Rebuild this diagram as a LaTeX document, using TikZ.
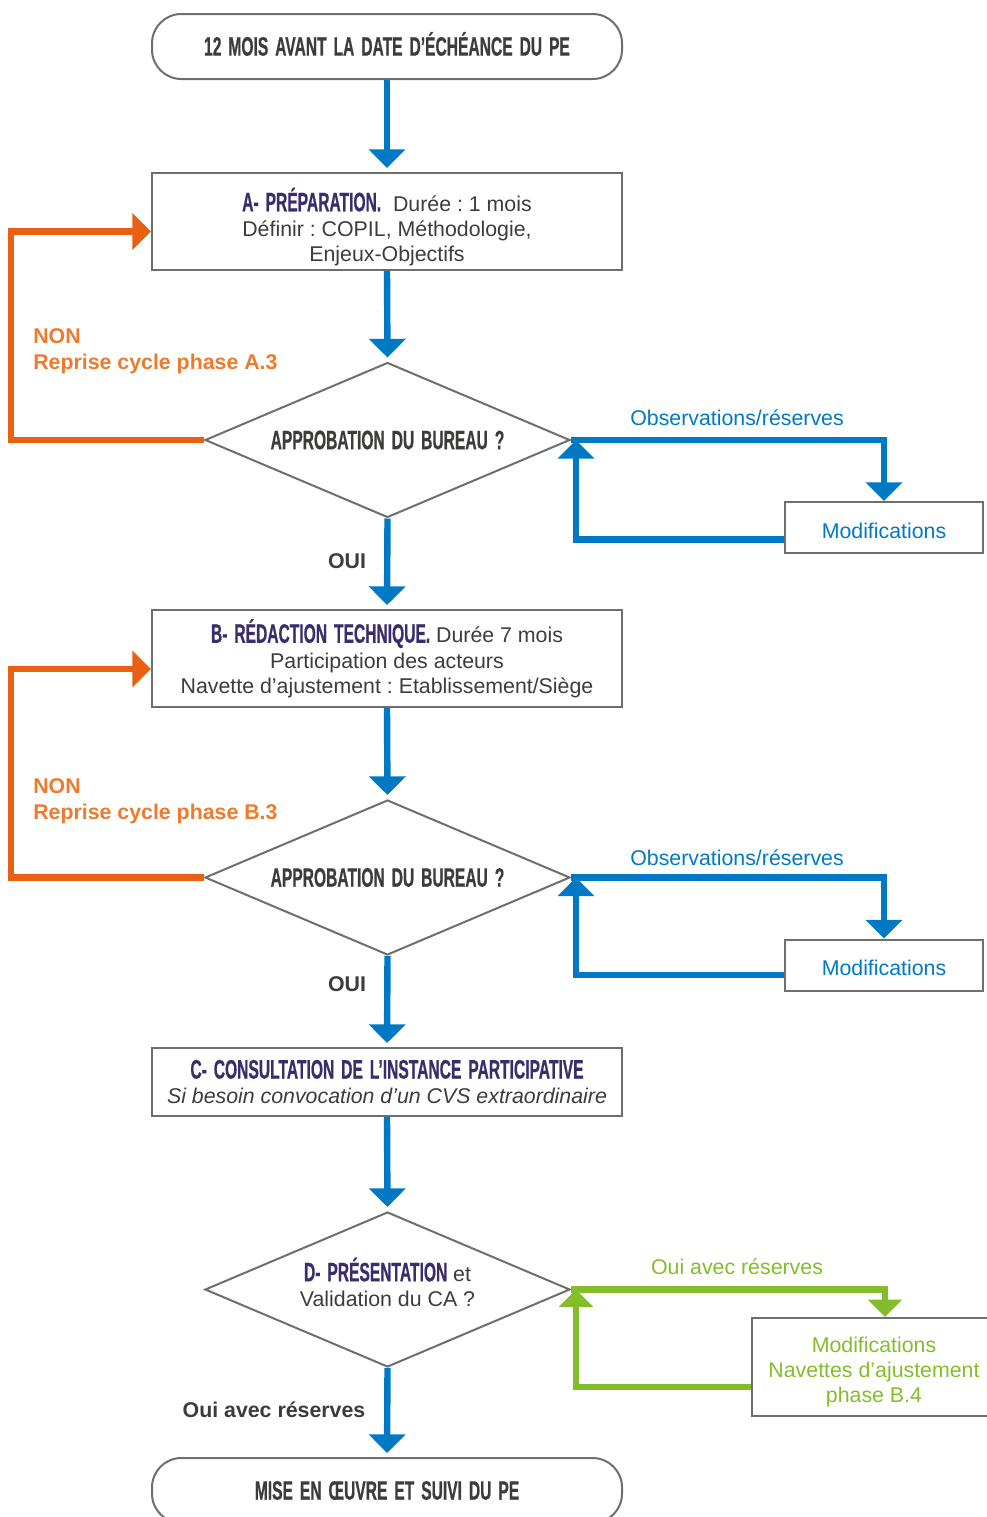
\documentclass[tikz,border=0pt]{standalone}
\usepackage{fontspec}
\setmainfont{Liberation Sans}
\newfontfamily\headfont[FakeStretch=0.585,FakeBold=0.6,WordSpace=1.6]{Liberation Sans}
\usetikzlibrary{arrows.meta,shapes.geometric,calc}
\definecolor{cblue}{HTML}{0079C4}
\definecolor{corange}{HTML}{EA6012}
\definecolor{corangetxt}{HTML}{EE7A2E}
\definecolor{cgreen}{HTML}{84BD2A}
\definecolor{cpurple}{HTML}{3A2D6B}
\definecolor{ctext}{HTML}{3C3C3B}
\definecolor{cgray}{HTML}{6E6E6E}
\newcommand\hdtxt[1]{{\headfont\bfseries\fontsize{20}{19}\selectfont #1}}
\frenchspacing
\begin{document}
\begin{tikzpicture}[x=0.75pt,y=-0.75pt,
  box/.style={draw=cgray, line width=1.5pt, minimum width=352.5pt, align=center,
    inner sep=0pt, text=ctext, font=\fontsize{16}{19}\selectfont},
  rbox/.style={box, rounded corners=22pt, minimum height=48.75pt},
  dia/.style={draw=cgray, line width=1.5pt, diamond, aspect=2.35, minimum width=273.75pt,
    minimum height=116.25pt, inner sep=0pt, align=center, text=ctext,
    font=\fontsize{16}{19}\selectfont},
  modbox/.style={draw=cgray, line width=1.5pt, align=center, inner sep=0pt,
    font=\fontsize{16}{19}\selectfont},
  lbl/.style={inner sep=0pt, font=\fontsize{16}{19.5}\selectfont},
  barrow/.style={draw=cblue, line width=4.8pt, -{Triangle[width=27pt,length=14pt]}},
  oarrow/.style={draw=corange, line width=4.8pt, -{Triangle[width=27pt,length=14pt]}},
  garrow/.style={draw=cgreen, line width=4.8pt, -{Triangle[width=25pt,length=13pt]}}
]
\useasboundingbox (0,0) rectangle (987,1517);
\clip (0,0) rectangle (987,1517);

% main chain
\node[rbox] (top) at (387,46.5) {\rule[-4pt]{0pt}{0pt}\hdtxt{12 MOIS AVANT LA DATE D’ÉCHÉANCE DU PE}};
\node[box, minimum height=72.75pt] (A) at (387,221.5)
  {\rule{0pt}{26pt}\textcolor{cpurple}{\hdtxt{A- PRÉPARATION.}}\ \ Durée : 1 mois\\Définir : COPIL, Méthodologie,\\Enjeux-Objectifs};
\node[dia] (D1) at (387.5,440) {\hdtxt{APPROBATION DU BUREAU ?}};
\node[modbox, minimum width=148.5pt, minimum height=38.25pt, text=cblue] (M1) at (884,527.5) {\rule{0pt}{16pt}Modifications};

\node[box, minimum height=72.75pt] (B) at (387,658.5)
  {\textcolor{cpurple}{\hdtxt{B- RÉDACTION TECHNIQUE.}} Durée 7 mois\\Participation des acteurs\\Navette d’ajustement : Etablissement/Siège};
\node[dia] (D2) at (387.5,877.5) {\hdtxt{APPROBATION DU BUREAU ?}};
\node[modbox, minimum width=148.5pt, minimum height=38.25pt, text=cblue] (M2) at (884,965) {\rule{0pt}{16pt}Modifications};

\node[box, minimum height=51pt] (C) at (387,1082)
  {\textcolor{cpurple}{\hdtxt{C- CONSULTATION DE L’INSTANCE PARTICIPATIVE}}\\\textit{Si besoin convocation d’un CVS extraordinaire}};
\node[dia] (D3) at (387.5,1289.5)
  {\textcolor{cpurple}{\hdtxt{D- PRÉSENTATION}} et\\Validation du CA ?\rule[-11pt]{0pt}{0pt}};
\node[modbox, minimum width=183pt, minimum height=73.5pt, text=cgreen] (M3) at (874,1367)
  {\rule{0pt}{19pt}Modifications\\Navettes d’ajustement\\phase B.4};

\node[rbox] (end) at (387,1490.5) {\hdtxt{MISE EN ŒUVRE ET SUIVI DU PE}};

% labels
\node[lbl, text=corangetxt, anchor=west, align=left, font=\bfseries\fontsize{16}{19.5}\selectfont] (non1) at (33,351) {NON\\Reprise cycle phase A.3};
\node[lbl, text=corangetxt, anchor=west, align=left, font=\bfseries\fontsize{16}{19.5}\selectfont] (non2) at (33,801) {NON\\Reprise cycle phase B.3};
\node[lbl, text=cblue] (obs1) at (737,418) {Observations/réserves};
\node[lbl, text=cblue] (obs2) at (737,858) {Observations/réserves};
\node[lbl, text=cgreen] (oar) at (737,1267) {Oui avec réserves};
\node[lbl, text=ctext, font=\bfseries\fontsize{16}{19}\selectfont] (oui1) at (347,561) {OUI};
\node[lbl, text=ctext, font=\bfseries\fontsize{16}{19}\selectfont] (oui2) at (347,984) {OUI};
\node[lbl, text=ctext, font=\bfseries\fontsize{16}{19}\selectfont] (oar2) at (274,1410) {Oui avec réserves};

% vertical arrows
\draw[barrow, shorten >=3pt] (top.south) -- (A.north);
\draw[barrow, shorten >=3pt] (A.south) -- (D1.north);
\draw[barrow, shorten >=3pt] (D1.south) -- (B.north);
\draw[barrow, shorten >=3pt] (B.south) -- (D2.north);
\draw[barrow, shorten >=3pt] (D2.south) -- (C.north);
\draw[barrow, shorten >=3pt] (C.south) -- (D3.north);
\draw[barrow, shorten >=3pt] (D3.south) -- (end.north);

% orange loops
\draw[oarrow] (D1.west) -- ++(-193,0) |- ([yshift=-7.5pt]A.west);
\draw[oarrow] (D2.west) -- ++(-193,0) |- ([yshift=-7.9pt]B.west);

% blue loops
\draw[barrow] (D1.east) -| (M1.north);
\draw[barrow] ([yshift=-9pt]M1.west) -| ([xshift=3.75pt]D1.east);
\draw[barrow] (D2.east) -| (M2.north);
\draw[barrow] ([yshift=-7.5pt]M2.west) -| ([xshift=3.75pt]D2.east);

% green loop
\draw[garrow] (D3.east) -| ([xshift=8.25pt]M3.north);
\draw[garrow] ([yshift=-15pt]M3.west) -| ([xshift=3.75pt]D3.east);
\end{tikzpicture}
\end{document}
